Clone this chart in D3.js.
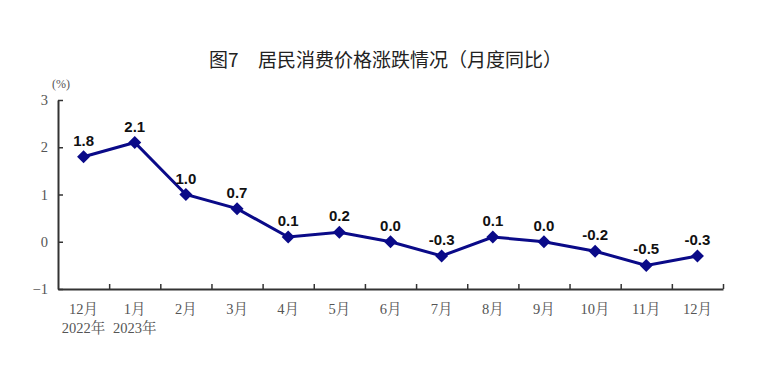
<!DOCTYPE html>
<html><head><meta charset="utf-8">
<script src="https://cdn.jsdelivr.net/npm/d3@7"></script>
<style>body{margin:0;background:#fff}svg{display:block}</style>
</head><body>
<script>
const months = ["12月","1月","2月","3月","4月","5月","6月","7月","8月","9月","10月","11月","12月"];
const yearLabels = ["2022年","2023年"];
const values = [1.8,2.1,1.0,0.7,0.1,0.2,0.0,-0.3,0.1,0.0,-0.2,-0.5,-0.3];
const yTicks = [-1,0,1,2,3];
const titleNum = "图7";
const titleText = "居民消费价格涨跌情况（月度同比）";

const W=758,H=370;
const svg=d3.select("body").append("svg").attr("width",W).attr("height",H);
const x=d3.scaleBand().domain(d3.range(months.length)).range([58,723]);
const y=d3.scaleLinear().domain([-1,3]).range([289,100]);
const serif="'Liberation Serif','Noto Serif CJK SC','Noto Sans CJK SC',serif";
const grey="#555";
const navy="#0a0a88";

const tf="'Noto Sans CJK SC',sans-serif";
svg.append("text").attr("x",209).attr("y",67).attr("font-family",tf).attr("font-size",19)
  .attr("font-weight",400).attr("fill","#222").text(titleNum);
svg.append("text").attr("x",258).attr("y",67).attr("font-family",tf).attr("font-size",19)
  .attr("font-weight",400).attr("fill","#222").text(titleText);

// y axis
const ya=svg.append("g").attr("transform","translate(58,0)")
  .call(d3.axisLeft(y).tickValues(yTicks).tickSize(-5).tickSizeOuter(0).tickFormat(d=>d<0?"\u2212"+Math.abs(d):d));
ya.select(".domain").attr("stroke","#333").attr("stroke-width",2);
ya.selectAll(".tick line").attr("stroke","#333").attr("stroke-width",1.5);
ya.selectAll(".tick text").attr("x",-10).attr("font-family",serif).attr("font-size",14.5).attr("fill",grey);

svg.append("text").attr("x",61).attr("y",88).attr("text-anchor","middle")
  .attr("font-family",serif).attr("font-size",12).attr("fill",grey).text("(%)");

// x axis
const xb=d3.scaleLinear().domain([0,months.length]).range([58,723]);
const xa=svg.append("g").attr("transform",`translate(0,${y(-1)})`)
  .call(d3.axisBottom(xb).tickValues(d3.range(1,months.length+1)).tickSize(-5).tickSizeOuter(0).tickFormat(""));
xa.select(".domain").attr("stroke","#333").attr("stroke-width",2);
xa.selectAll(".tick line").attr("stroke","#333").attr("stroke-width",1.5);

const cx=i=>x(i)+x.bandwidth()/2;
const xl=svg.append("g");
months.forEach((m,i)=>{
  xl.append("text").attr("x",cx(i)).attr("y",314).attr("text-anchor","middle")
    .attr("font-family",serif).attr("font-size",14.5).attr("fill",grey).text(m);
});
yearLabels.forEach((t,i)=>{
  xl.append("text").attr("x",cx(i)).attr("y",333).attr("text-anchor","middle")
    .attr("font-family",serif).attr("font-size",14.5).attr("fill",grey).text(t);
});

svg.append("path").datum(values)
  .attr("d",d3.line().x((d,i)=>cx(i)).y(d=>y(d)))
  .attr("fill","none").attr("stroke",navy).attr("stroke-width",3);
svg.selectAll(".pt").data(values).enter().append("path")
  .attr("d","M0,-6.5L6.5,0L0,6.5L-6.5,0Z")
  .attr("transform",(d,i)=>`translate(${cx(i)},${y(d)})`).attr("fill",navy);
svg.selectAll(".lb").data(values).enter().append("text")
  .attr("x",(d,i)=>cx(i)).attr("y",d=>y(d)-11).attr("text-anchor","middle")
  .attr("font-family","'Liberation Sans',Arial,sans-serif").attr("font-weight","bold").attr("font-size",15)
  .attr("fill","#111").text(d=>d.toFixed(1));
</script>
</body></html>
